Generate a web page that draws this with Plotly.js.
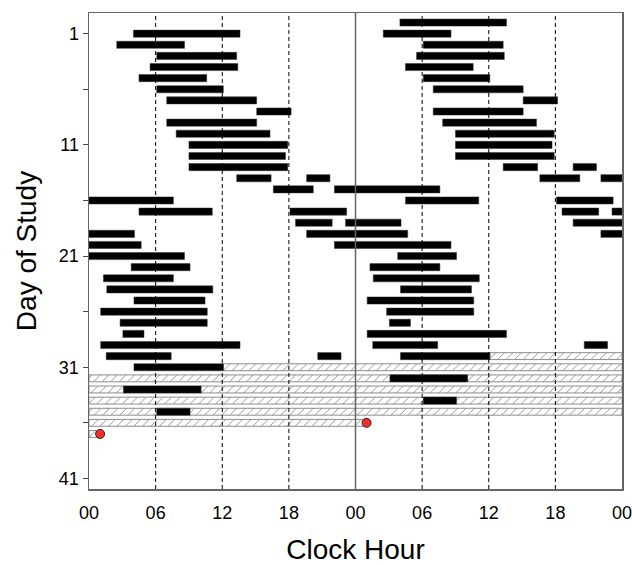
<!DOCTYPE html>
<html>
<head>
<meta charset="utf-8">
<script src="https://cdn.plot.ly/plotly-3.0.1.min.js"></script>
<style>html,body{margin:0;padding:0;background:#fff;}#chart{width:632px;height:565px;}</style>
</head>
<body>
<div id="chart"></div>
<script>
// Sleep episodes: day of study, start clock hour, end clock hour (end > 24 = crosses midnight)
const epDay   = [1, 2, 3, 4, 5, 6, 7, 8, 9, 10, 11, 12, 13, 14, 14, 15, 15, 17, 17, 18, 18, 19, 20, 22, 23, 24, 25, 26, 27, 28, 29, 30, 30, 31, 33, 35];
const epStart = [4.0, 2.5, 6.1, 5.5, 4.5, 6.1, 7.0, 15.1, 7.0, 7.85, 9.0, 9.0, 9.0, 13.3, 19.6, 16.6, 22.1, 4.5, 18.1, 18.6, 23.1, 19.6, 22.1, 3.8, 1.3, 1.6, 4.05, 1.05, 2.8, 3.05, 1.05, 1.55, 20.6, 4.05, 3.1, 6.1];
const epEnd   = [13.6, 8.6, 13.3, 13.4, 10.6, 12.1, 15.1, 18.2, 15.1, 16.3, 17.9, 17.7, 17.9, 16.4, 21.7, 20.2, 31.6, 11.1, 23.2, 21.9, 28.1, 28.7, 32.6, 9.1, 7.6, 11.15, 10.45, 10.65, 10.65, 4.95, 13.6, 7.4, 22.7, 12.1, 10.1, 9.1];
// Hatched (laboratory) period: from day/hour to day/hour
const labDay  = [31, 37];
const labHour = [12.1, 0.7];
// Red marker event
const dotDay  = [37];
const dotHour = [1.0];
// Axis ticks
const xTickVals = [0, 6, 12, 18, 24, 30, 36, 42, 48];
const xTickText = ["00", "06", "12", "18", "00", "06", "12", "18", "00"];
const yTickVals = [1, 6, 11, 16, 21, 26, 31, 36, 41];
const yTickText = ["1", "", "11", "", "21", "", "31", "", "41"];

const nRows = 41;
// Double-plot: row r shows absolute hours [(r-1)*24, (r+1)*24]
function doublePlot(absStart, absEnd) {
  const ys = [], bases = [], lens = [];
  for (let r = 0; r <= nRows; r++) {
    const w0 = (r - 1) * 24, w1 = (r + 1) * 24;
    for (let i = 0; i < absStart.length; i++) {
      const a = Math.max(absStart[i], w0), b = Math.min(absEnd[i], w1);
      if (b > a) { ys.push(r); bases.push(a - w0); lens.push(b - a); }
    }
  }
  return {ys, bases, lens};
}
const sAbs = epDay.map((d, i) => (d - 1) * 24 + epStart[i]);
const eAbs = epDay.map((d, i) => (d - 1) * 24 + epEnd[i]);
const sleep = doublePlot(sAbs, eAbs);
const lab = doublePlot([(labDay[0] - 1) * 24 + labHour[0]], [(labDay[1] - 1) * 24 + labHour[1]]);

const dotX = [], dotY = [];
dotDay.forEach((d, i) => {
  const abs = (d - 1) * 24 + dotHour[i];
  for (let r = 0; r <= nRows; r++) {
    const w0 = (r - 1) * 24;
    if (abs >= w0 && abs <= w0 + 48) { dotX.push(abs - w0); dotY.push(r); }
  }
});

const traces = [
  {type: 'bar', orientation: 'h', y: lab.ys, x: lab.lens, base: lab.bases, width: 0.62,
   marker: {color: '#ffffff', line: {color: '#8c8c8c', width: 1},
            pattern: {shape: '/', fgcolor: '#8a8a8a', bgcolor: '#ffffff', size: 6, solidity: 0.15}},
   hoverinfo: 'skip', showlegend: false},
  {type: 'bar', orientation: 'h', y: sleep.ys, x: sleep.lens, base: sleep.bases, width: 0.64,
   marker: {color: '#000000', line: {color: '#333333', width: 0.5}}, hoverinfo: 'skip', showlegend: false},
  {type: 'scatter', mode: 'markers', x: dotX, y: dotY, cliponaxis: false,
   marker: {color: '#ff2a2a', size: 9, line: {color: '#222222', width: 1}}, showlegend: false}
];

const shapes = [];
[6, 12, 18, 30, 36, 42].forEach(v => shapes.push({type: 'line', xref: 'x', yref: 'paper', x0: v, x1: v, y0: 0, y1: 1,
  line: {color: '#000', width: 1, dash: '4px,3px'}, layer: 'above'}));
shapes.push({type: 'line', xref: 'x', yref: 'paper', x0: 24, x1: 24, y0: 0, y1: 1, line: {color: '#666', width: 1.5}, layer: 'above'});

const layout = {
  width: 632, height: 565,
  margin: {l: 89, r: 10, t: 13, b: 76},
  paper_bgcolor: '#fff', plot_bgcolor: '#fff',
  barmode: 'overlay', bargap: 0,
  font: {family: 'Liberation Sans, Arial, sans-serif', color: '#000', size: 18},
  xaxis: {range: [0, 48], tickvals: xTickVals, ticktext: xTickText, ticks: '', showgrid: false, zeroline: false,
          showline: true, mirror: true, linecolor: '#666', linewidth: 1.5, ticklabelstandoff: 7,
          ticklabeloverflow: 'allow', automargin: false,
          tickfont: {size: 18},
          title: {text: 'Clock Hour', font: {size: 28}, standoff: 22}},
  yaxis: {range: [41.95, -0.86], tickvals: yTickVals, ticktext: yTickText, ticks: 'outside', ticklen: 5, tickcolor: '#444',
          showgrid: false, zeroline: false, showline: true, mirror: true, linecolor: '#666', linewidth: 1.5,
          tickfont: {size: 18},
          title: {text: 'Day of Study', font: {size: 28}, standoff: 14}},
  shapes: shapes
};
Plotly.newPlot('chart', traces, layout, {displayModeBar: false, staticPlot: true});
</script>
</body>
</html>
